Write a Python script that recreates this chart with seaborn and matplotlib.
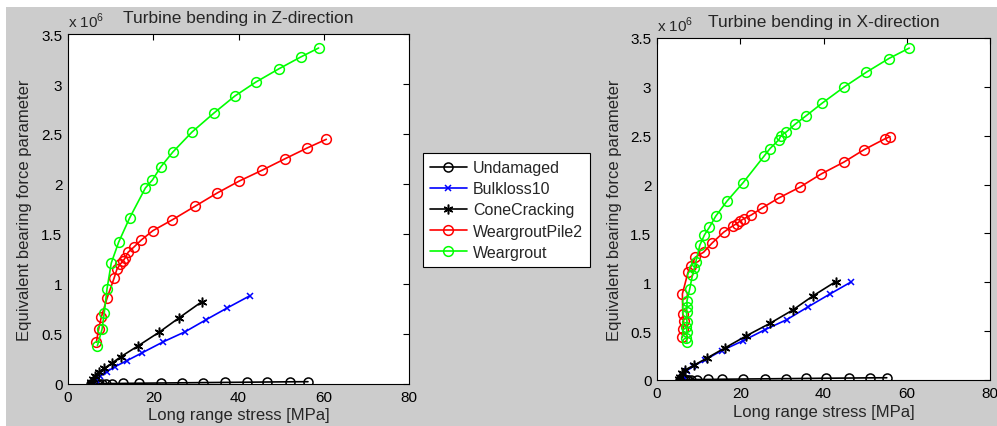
import matplotlib
matplotlib.use("Agg")
import matplotlib.pyplot as plt
import seaborn as sns
from matplotlib.patches import Rectangle
from matplotlib.ticker import FormatStrFormatter, MultipleLocator

# values, y in units of 1e6
# ---- Turbine bending in Z-direction
und_z_x = [5.5, 5.8, 6.2, 6.7, 7.3, 8.0, 8.8, 10.4, 12.8, 16.7, 21.8, 26.8, 31.7, 36.9, 41.9, 46.8, 52.0, 56.3]
und_z_y = [0.000, 0.001, 0.002, 0.002, 0.003, 0.003, 0.004, 0.005, 0.006, 0.008, 0.010, 0.012, 0.014, 0.016, 0.018, 0.020, 0.022, 0.023]
bulk_z_x = [5.7, 6.0, 6.6, 7.5, 9.1, 11.0, 13.8, 17.3, 22.4, 27.5, 32.4, 37.2, 42.7]
bulk_z_y = [0.005, 0.015, 0.043, 0.077, 0.123, 0.173, 0.233, 0.31, 0.423, 0.523, 0.643, 0.757, 0.883]
cone_z_x = [5.3, 5.5, 5.8, 6.3, 7.35, 8.5, 10.25, 12.4, 16.5, 21.35, 26.0, 31.4]
cone_z_y = [0.005, 0.017, 0.05, 0.083, 0.117, 0.157, 0.207, 0.273, 0.383, 0.517, 0.66, 0.823]
pile_z_x = [6.65, 7.2, 7.8, 9.15, 10.8, 11.5, 12.3, 12.9, 13.4, 14.1, 15.4, 17.2, 19.9, 24.4, 29.9, 35.0, 40.2, 45.5, 50.8, 56.1, 60.6]
pile_z_y = [0.417, 0.55, 0.667, 0.857, 1.057, 1.15, 1.2, 1.23, 1.26, 1.317, 1.367, 1.44, 1.533, 1.64, 1.78, 1.91, 2.03, 2.137, 2.25, 2.36, 2.447]
wg_z_x = [6.9, 8.0, 8.5, 9.15, 10.15, 11.9, 14.45, 18.15, 19.8, 21.75, 24.6, 29.1, 34.25, 39.15, 44.1, 49.4, 54.6, 58.8]
wg_z_y = [0.383, 0.55, 0.71, 0.95, 1.21, 1.42, 1.66, 1.96, 2.04, 2.17, 2.32, 2.52, 2.71, 2.88, 3.02, 3.15, 3.27, 3.36]

# ---- Turbine bending in X-direction
und_x_x = [5.5, 5.85, 6.2, 6.65, 7.1, 7.45, 8.2, 9.5, 12.3, 15.7, 20.7, 25.9, 30.9, 35.9, 40.7, 46.2, 51.1, 55.2]
und_x_y = [0.000, 0.001, 0.002, 0.002, 0.003, 0.003, 0.004, 0.005, 0.006, 0.008, 0.010, 0.012, 0.014, 0.016, 0.018, 0.020, 0.022, 0.023]
bulk_x_x = [5.8, 6.3, 7.1, 8.6, 11.5, 15.5, 20.7, 25.95, 31.15, 36.35, 41.55, 46.7]
bulk_x_y = [0.01, 0.044, 0.095, 0.14, 0.205, 0.30, 0.402, 0.515, 0.617, 0.75, 0.88, 1.005]
cone_x_x = [5.3, 5.5, 5.9, 6.7, 9.0, 11.9, 16.3, 21.5, 27.15, 32.6, 37.55, 42.9]
cone_x_y = [0.01, 0.034, 0.068, 0.102, 0.154, 0.222, 0.328, 0.453, 0.58, 0.716, 0.863, 1.006]
pile_x_x = [6.1, 6.25, 6.4, 6.2, 6.1, 7.45, 8.25, 9.2, 11.2, 13.2, 16.0, 18.3, 19.1, 19.9, 20.8, 22.7, 25.3, 29.3, 34.3, 39.5, 44.9, 49.7, 54.75, 55.95]
pile_x_y = [0.437, 0.52, 0.6, 0.676, 0.881, 1.103, 1.171, 1.256, 1.308, 1.40, 1.512, 1.58, 1.598, 1.625, 1.649, 1.69, 1.762, 1.864, 1.973, 2.11, 2.23, 2.356, 2.468, 2.49]
wg_x_x = [7.2, 7.05, 7.2, 7.05, 7.2, 7.1, 7.2, 7.2, 7.86, 8.5, 9.0, 9.3, 10.3, 11.4, 12.6, 14.1, 16.8, 20.7, 25.7, 27.1, 29.3, 29.75, 31.1, 33.1, 35.7, 39.7, 45.0, 50.3, 55.7, 60.6]
wg_x_y = [0.386, 0.43, 0.488, 0.54, 0.59, 0.693, 0.75, 0.81, 0.932, 1.07, 1.15, 1.205, 1.38, 1.485, 1.564, 1.676, 1.83, 2.02, 2.29, 2.366, 2.46, 2.50, 2.54, 2.615, 2.70, 2.834, 3.00, 3.15, 3.29, 3.397]

labels = ["Undamaged", "Bulkloss10", "ConeCracking", "WeargroutPile2", "Weargrout"]
colors = ["black", "#0000ff", "black", "#ff0000", "#00ff00"]
markers = ["o", "x", (6, 2, 0), "o", "o"]
msizes = [6.5, 5, 7, 7, 7]

sns.set_style("white")
plt.rcParams["font.family"] = ["Liberation Sans", "DejaVu Sans"]
plt.rcParams["mathtext.fontset"] = "custom"
plt.rcParams["mathtext.rm"] = "Liberation Sans"
FS_TICK = 11
FS_LAB = 12
FS_TITLE = 12.5
FS_LEG = 11.5

fig = plt.figure(figsize=(9.97, 4.27), dpi=100, facecolor="white")
fig.patches.append(Rectangle((6 / 997, 0), 1, 1 - 8 / 427, transform=fig.transFigure,
                             facecolor="#cccccc", edgecolor="none", zorder=-10))

ax1 = fig.add_axes([68 / 997, 1 - 385 / 427, 341 / 997, 350 / 427])
ax2 = fig.add_axes([657 / 997, 1 - 381 / 427, 333 / 997, 342 / 427])

panels = [
    (ax1, "Turbine bending in Z-direction",
     [(und_z_x, und_z_y), (bulk_z_x, bulk_z_y), (cone_z_x, cone_z_y), (pile_z_x, pile_z_y), (wg_z_x, wg_z_y)],
     -0.066),
    (ax2, "Turbine bending in X-direction",
     [(und_x_x, und_x_y), (bulk_x_x, bulk_x_y), (cone_x_x, cone_x_y), (pile_x_x, pile_x_y), (wg_x_x, wg_x_y)],
     -0.070),
]

for ax, title, series, xlab_y in panels:
    ax.set_facecolor("white")
    for (xs, ys), lab, col, mk, ms in zip(series, labels, colors, markers, msizes):
        sns.lineplot(x=xs, y=ys, sort=False, estimator=None, ax=ax, color=col, linewidth=1.2,
                     marker=mk, markersize=ms, markerfacecolor="none", markeredgecolor=col,
                     markeredgewidth=1.1, label=lab)
    if ax.get_legend() is not None:
        ax.get_legend().remove()
    ax.set_xlim(0, 80)
    ax.set_ylim(0, 3.5)
    ax.xaxis.set_major_locator(MultipleLocator(20))
    ax.yaxis.set_major_locator(MultipleLocator(0.5))
    ax.yaxis.set_major_formatter(FormatStrFormatter("%g"))
    ax.tick_params(direction="in", length=4, width=0.8, top=True, right=True,
                   labelsize=FS_TICK, pad=4, colors="black")
    for sp in ax.spines.values():
        sp.set_visible(True)
        sp.set_color("black")
        sp.set_linewidth(0.8)
    ax.set_title(title, fontsize=FS_TITLE, pad=8.6)
    ax.set_xlabel("Long range stress [MPa]", fontsize=FS_LAB)
    ax.set_ylabel("Equivalent bearing force parameter", fontsize=FS_LAB)
    ax.xaxis.set_label_coords(0.5, xlab_y)
    ax.yaxis.set_label_coords(-0.105, 0.5)
    ax.text(0.0, 1.012, r"x 10$^{6}$", transform=ax.transAxes, ha="left", va="bottom", fontsize=FS_TICK)

handles, labs = ax1.get_legend_handles_labels()
leg = fig.legend(handles[:5], labs[:5], loc="center", bbox_to_anchor=(506.5 / 997, 1 - 211 / 427),
                 fontsize=FS_LEG, frameon=True, fancybox=False, handlelength=2.3, labelspacing=0.38,
                 borderpad=0.45, handletextpad=0.4, borderaxespad=0)
leg.get_frame().set_edgecolor("black")
leg.get_frame().set_linewidth(0.8)
leg.get_frame().set_facecolor("white")
leg.get_frame().set_alpha(1)

fig.savefig("out.png", dpi=100, facecolor=fig.get_facecolor())
